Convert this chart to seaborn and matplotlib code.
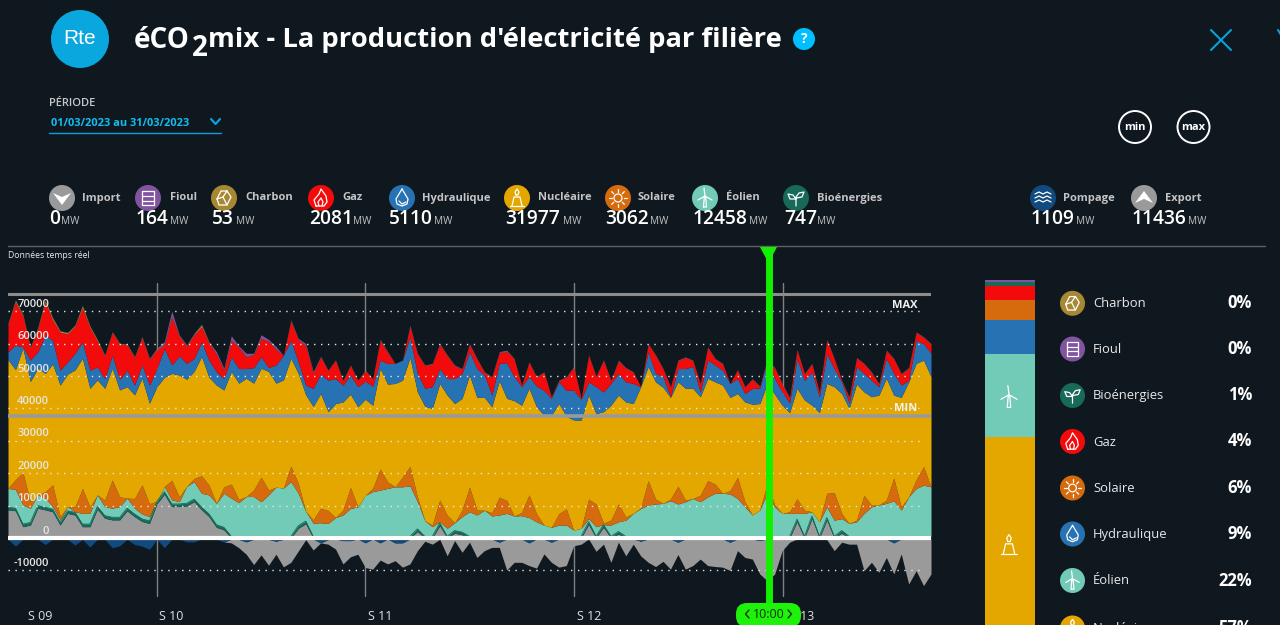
import numpy as np
import pandas as pd
import seaborn as sns
import matplotlib.pyplot as plt
from matplotlib.patches import Circle, Polygon, FancyBboxPatch

# une valeur toutes les 6 h sur le mois de mars, en GW
heures = list(range(0, 745, 6))

haut_total = [
    66.3, 73.5, 69, 59, 65, 73.5, 68, 64, 63.5, 65.8,
    71.8, 65.5, 61.3, 56.5, 63.7, 60.1, 59.9, 56, 62.2, 55.5,
    58.6, 60.6, 70, 62.7, 59.6, 63.2, 66, 60.6, 57.5, 52.4,
    62.4, 59.3, 57, 57, 62.7, 61.3, 59.1, 53.9, 67.3, 61.6,
    60, 51.4, 56.1, 51.8, 55, 48.7, 53.4, 48.7, 51.8, 49.2,
    61.3, 57.5, 53.9, 52.9, 65.7, 57, 53.4, 53.9, 60, 56.5,
    53.4, 52.3, 60, 55.4, 51.3, 49.8, 57.5, 58, 55.4, 47.2,
    54.4, 49.8, 51.3, 43.6, 48.7, 49.8, 52.9, 43.1, 56.5, 50,
    55, 48.7, 54.9, 52.6, 51.3, 46.7, 60, 56.5, 52.3, 46.7,
    54.9, 55.9, 54.9, 47.7, 59, 55.4, 53.9, 46.7, 52, 46.7,
    49.2, 46.9, 55.4, 52.6, 47.7, 43.4, 58.2, 50.8, 53.9, 45.1,
    61.3, 55.4, 48.7, 43.6, 55.7, 53.9, 51.3, 47.7, 58, 55.4,
    50.8, 52.6, 63.6, 62.1, 60,
]
haut_hydraulique = [
    57.5, 59.5, 59, 54.9, 57.5, 62.6, 61, 51.8, 54.4, 57,
    60.5, 51.8, 52.8, 49.2, 56.4, 48.9, 51.8, 47.2, 53.4, 47.2,
    52.3, 58.5, 53.4, 56.2, 53.9, 55.4, 60.5, 54.9, 51.3, 49.2,
    55.9, 52.3, 52.3, 52.6, 55.9, 52.6, 53.4, 56.4, 61, 54.4,
    47.2, 46.2, 50.6, 48.7, 49.2, 47.2, 50.3, 46.7, 48.4, 46.9,
    54.9, 53.9, 53.9, 54.9, 62.1, 50.8, 46.2, 46.7, 52.3, 49.2,
    49.2, 50.8, 57.5, 52.3, 50.3, 44.1, 53.9, 54.1, 49.8, 46.7,
    49.8, 46.9, 45.6, 43.1, 48.2, 45.6, 45.6, 42.8, 48.2, 46.7,
    45.1, 47.7, 50.8, 48.2, 47.7, 46.2, 57.5, 50.8, 49.8, 43.6,
    52.3, 52.3, 52.9, 45.1, 54.9, 53.4, 51.8, 47.7, 49.2, 44.6,
    46.2, 46.2, 54.9, 49.2, 45.1, 41.7, 55.4, 48.7, 51.3, 43.6,
    56.8, 52.3, 48.2, 41.7, 52.9, 50.8, 48.7, 46.7, 55.4, 50.8,
    47.2, 48.7, 61, 60, 57,
]
haut_nucleaire = [
    55, 52, 58.6, 48.3, 52.4, 50.8, 53.7, 47.2, 50.6, 51.9,
    55.5, 46.2, 48.8, 46.2, 52.4, 45.7, 46.7, 44.2, 49.3, 41.6,
    46.7, 49.6, 50.8, 50.3, 49, 51.4, 56, 49.6, 47.2, 45.7,
    51.4, 47.8, 49.3, 47.8, 52.4, 51.4, 47.8, 48.8, 55.5, 50.8,
    44.2, 40.6, 44.6, 39, 41.5, 42, 44.4, 40.5, 42.8, 41,
    52.3, 47.5, 47.7, 48.7, 55.7, 45.1, 40.7, 40, 47.7, 44.1,
    41.5, 43.1, 50.3, 43.4, 43.4, 40.5, 48.5, 43.1, 42.4, 41,
    46.2, 40.5, 37.9, 37.9, 41.5, 37.6, 36.4, 36.4, 44.1, 38.4,
    39, 41, 44.1, 42, 41.5, 46.7, 52.9, 48.2, 46.5, 43.4,
    48.2, 46.2, 46.2, 43.6, 49.3, 48.2, 47.2, 43.4, 44.6, 42,
    41.3, 41.5, 47.7, 44.4, 41, 38.7, 46.2, 42.6, 41, 38.7,
    47.7, 46.7, 44.6, 40, 47.5, 45.1, 43.6, 44.1, 49.3, 44.1,
    43.4, 48.2, 53.9, 54.9, 49.8,
]
haut_eolien = [
    15.3, 15, 10.2, 9.2, 13.3, 12.3, 9.7, 5.6, 9.7, 8.1,
    7.6, 7.6, 13.3, 9.7, 9.2, 9.7, 12.3, 9.2, 7.4, 6.6,
    10.2, 15.9, 11.8, 11.2, 15.9, 17.4, 13.8, 13.3, 10.7, 13.8,
    12.3, 10.9, 12.8, 12.8, 11.2, 13.3, 15.7, 15.4, 17.4, 13.8,
    8.2, 4.6, 4.7, 4.5, 6.3, 7.1, 9.1, 9.6, 13.2, 14.3,
    14.8, 15.3, 15.8, 15.8, 16.1, 11.2, 5.3, 3.5, 5, 3,
    4.7, 6.6, 8.1, 7.1, 8.6, 6.8, 7.1, 7.6, 6.8, 6.9,
    6.3, 5, 4, 3.3, 4, 4, 2.4, 3, 6, 3.5,
    3.5, 4, 5, 5.5, 7.6, 9.1, 10.2, 10.5, 10.7, 11.5,
    10.5, 11.2, 12.2, 11.2, 12.7, 13.8, 13.8, 13.6, 12.2, 9.6,
    7.1, 8.6, 13.8, 9.6, 7.6, 7.6, 7.6, 7.6, 8.1, 5,
    9.6, 5.5, 6, 4.5, 5, 7.6, 9.6, 10.2, 10.7, 11.5,
    8.6, 12.7, 15.3, 16.3, 15.8,
]
solaire = [
    0, 3, 10, 2, 0, 2, 6.7, 1, 0, 1.5,
    7.7, 2, 0, 2, 8.7, 3, 0, 3, 9, 4,
    0, 0, 6, 1.5, 0, 1, 5.4, 3, 0, 2,
    4.3, 1, 0, 2, 7.6, 1.5, 0, 0, 4.8, 3,
    0, 1, 4.5, 4, 0, 1.5, 6.5, 0, 0, 1,
    6.5, 2, 0, 3, 6, 1.5, 0, 0.5, 6.7, 4,
    0, 2, 7.6, 1.5, 0, 1, 5.5, 4, 0, 1,
    7, 2.5, 0, 0, 3.5, 5, 0, 0, 6, 7,
    0.5, 1.5, 5.5, 1, 0, 0.2, 7.5, 1.5, 0, 0.5,
    5.5, 0.5, 0, 2, 5, 2.8, 0, 1, 6.5, 1.6,
    0, 0, 3, 0.6, 0, 0.5, 4.5, 1, 0, 0,
    4.2, 8.5, 1.6, 0, 0.5, 5.6, 0.5, 0, 1, 7,
    1, 0, 2.6, 5.7, 0,
]
haut_import = [
    8.7, 8.4, 3.5, 4, 9.2, 8.7, 8.1, 4, 7.6, 7.1,
    3.5, 3.5, 8.9, 6.1, 5.6, 5.6, 8.4, 6.6, 5.1, 4.5,
    10.5, 13.5, 9.7, 9.7, 9.9, 11.2, 8.7, 6.6, 3.3, 2.5,
    0, 0, 0, 0, 0, 0, 0, 0, 0, 3,
    4.4, 0, 0, 0, 0, 0, 0, 0, 0, 0,
    0, 0, 0, 0, 0, 2, 0, 0, 3.8, 0,
    1.5, 1, 0, 0, 0, 0, 0, 0, 0, 0,
    0, 0, 0, 0, 0, 0, 0, 0, 4.2, 0,
    3.3, 0, 1.2, 0, 0, 0, 0, 0, 0, 0,
    0, 0, 0, 0, 0, 0, 0, 0, 0, 0,
    0, 0, 0, 0, 0, 0, 5, 0, 6, 0,
    5.5, 0, 1.5, 0, 0, 0, 0, 0, 0, 0,
    0, 0, 0, 0, 0,
]
bioenergies = [
    0.8, 0.8, 0.8, 0.8, 0.8, 0.8, 0.8, 0.8, 0.8, 0.8,
    0.8, 0.8, 0.8, 0.8, 0.8, 0.8, 0.8, 0.8, 0.8, 0.8,
    0.8, 0.8, 0.8, 0.8, 0.8, 0.8, 0.8, 0.8, 0.8, 0.8,
    0.5, 0.5, 0.5, 0.5, 0.5, 0.5, 0.5, 0.5, 0.5, 0.8,
    0.8, 0.5, 0.5, 0.5, 0.5, 0.5, 0.5, 0.5, 0.5, 0.5,
    0.5, 0.5, 0.5, 0.5, 0.5, 0.8, 0.5, 0.5, 0.8, 0.5,
    0.8, 0.8, 0.5, 0.5, 0.5, 0.5, 0.5, 0.5, 0.5, 0.5,
    0.5, 0.5, 0.5, 0.5, 0.5, 0.5, 0.5, 0.5, 0.8, 0.5,
    0.8, 0.5, 0.8, 0.5, 0.5, 0.5, 0.5, 0.5, 0.5, 0.5,
    0.5, 0.5, 0.5, 0.5, 0.5, 0.5, 0.5, 0.5, 0.5, 0.5,
    0.5, 0.5, 0.5, 0.5, 0.5, 0.5, 0.8, 0.5, 0.8, 0.5,
    0.8, 0.5, 0.8, 0.5, 0.5, 0.5, 0.5, 0.5, 0.5, 0.5,
    0.5, 0.5, 0.5, 0.5, 0.5,
]
fioul = [
    0.1, 0.1, 0.1, 0.1, 0.1, 0.1, 0.1, 0.1, 0.1, 0.1,
    0.1, 0.1, 0.1, 0.1, 0.1, 0.1, 0.1, 0.1, 0.2, 0.2,
    0.3, 0.8, 1.5, 0.3, 0.2, 0.2, 0.2, 0.2, 0.7, 0.5,
    1.2, 0.3, 1, 0.3, 1, 0.5, 0.8, 0.2, 0.2, 0.3,
    0.6, 0.5, 0.2, 0.1, 0.1, 0.1, 0.1, 0.1, 0.1, 0.1,
    0.3, 0.2, 0.1, 0.1, 0.3, 0.1, 0.1, 0.1, 0.2, 0.1,
    0.1, 0.1, 0.2, 0.1, 0.1, 0.1, 0.2, 0.3, 0.1, 0.1,
    0.1, 0.1, 0.1, 0.1, 0.1, 0.1, 0.1, 0.1, 0.1, 0.1,
    0.1, 0.1, 0.2, 0.1, 0.1, 0.1, 0.1, 0.1, 0.1, 0.1,
    0.1, 0.1, 0.1, 0.1, 0.1, 0.1, 0.1, 0.1, 0.1, 0.1,
    0.1, 0.1, 0.1, 0.1, 0.1, 0.1, 0.1, 0.1, 0.1, 0.1,
    0.1, 0.1, 0.1, 0.1, 0.1, 0.1, 0.1, 0.1, 0.1, 0.1,
    0.1, 0.1, 0.1, 0.1, 0.1,
]
charbon = [
    0.3, 0.5, 0.4, 0.3, 0.3, 0.6, 0.6, 0.4, 0.4, 0.3,
    0.7, 0.4, 0.4, 0.2, 0.2, 0.2, 0.2, 0.2, 0.2, 0.2,
    0.2, 0.2, 0.3, 0.2, 0.2, 0.3, 0.6, 0.2, 0.1, 0.1,
    0.2, 0.1, 0.1, 0.1, 0.1, 0.1, 0.1, 0.1, 0.2, 0.1,
    0.1, 0.1, 0.1, 0.1, 0.1, 0.1, 0.1, 0.1, 0.1, 0.1,
    0.1, 0.1, 0.1, 0.1, 0.1, 0.1, 0.1, 0.1, 0.1, 0.1,
    0.1, 0.1, 0.1, 0.1, 0.1, 0.1, 0.1, 0.1, 0.1, 0.1,
    0.1, 0.1, 0.1, 0.1, 0.1, 0.1, 0.1, 0.1, 0.1, 0.1,
    0.1, 0.1, 0.1, 0.1, 0.1, 0.1, 0.1, 0.1, 0.1, 0.1,
    0.1, 0.1, 0.1, 0.1, 0.1, 0.1, 0.1, 0.1, 0.1, 0.1,
    0.1, 0.1, 0.1, 0.1, 0.1, 0.1, 0.1, 0.1, 0.1, 0.1,
    0.1, 0.1, 0.1, 0.1, 0.1, 0.1, 0.1, 0.1, 0.1, 0.1,
    0.1, 0.1, 0.1, 0.1, 0.1,
]
pompage = [
    0.4, 2.5, 0.4, 0.4, 0.4, 2, 0.4, 0.4, 0.4, 2.2,
    0.4, 2.8, 0.4, 0.4, 3, 2.4, 0.4, 2, 2.5, 3.5,
    0.4, 3, 0.4, 0.3, 1.2, 1.2, 0.3, 0.3, 0.4, 1.2,
    0.4, 0.4, 1.2, 0.4, 0.4, 0.4, 1, 0.4, 0.4, 0.4,
    0.3, 0.3, 1.5, 0.5, 0.3, 0.8, 0.8, 0.3, 1.5, 0.3,
    1.5, 0.3, 1.5, 1.5, 0.3, 0.3, 0.3, 0.3, 0.3, 0.3,
    0.3, 0.3, 0.3, 0.3, 0.3, 0.3, 1.3, 0.3, 0.3, 0.3,
    1.5, 0.3, 0.3, 1.3, 0.3, 0.3, 0.3, 0.3, 0.3, 0.3,
    0.3, 0.3, 0.3, 0.3, 0.3, 1, 0.3, 0.3, 0.3, 0.3,
    1.3, 0.3, 0.3, 0.3, 0.3, 0.3, 0.3, 1.3, 0.3, 0.3,
    0.3, 0.8, 0.3, 0.3, 0.3, 0.3, 0.3, 0.3, 0.3, 0.3,
    0.3, 0.3, 0.3, 0.3, 0.3, 0.3, 0.3, 0.3, 0.3, 1.5,
    0.3, 0.3, 0.3, 0.3, 0.3,
]
export_bas = [
    0, 0, 0, 0, 0, 0, 0, 0, 0, 0,
    0, 0, 0, 0, 0, 0, 0, 0, 0, 0,
    0, 0, 0, 0, 0, 0, 0, 0, 0, 0,
    1.5, 3, 5, 8.2, 5.2, 8.4, 5, 8.9, 7.5, 4,
    0.5, 3.7, 1.4, 1.9, 3.4, 8, 5.8, 5, 9.1, 9.6,
    6.8, 8, 7, 9, 8, 3.9, 1, 1.9, 0.4, 5.5,
    0.8, 4.4, 1.3, 6, 3.9, 2.9, 2.9, 9.9, 7.5, 7.5,
    8.5, 9.3, 4.9, 7.5, 9, 8.5, 2.4, 1.9, 0.3, 4.1,
    1.9, 7.5, 1.3, 5.5, 1.9, 5.5, 7.5, 8.8, 7.2, 9.6,
    5.1, 9.6, 8.5, 6.5, 8.5, 8.8, 9, 10, 3.9, 6,
    6.5, 11.1, 13.2, 11.1, 3.9, 1.3, 0.3, 0.3, 0.3, 0.3,
    0.5, 3.9, 1.3, 1.9, 1.9, 10.1, 7.5, 10.6, 6, 11.1,
    4.9, 14.2, 10.1, 14.7, 11.1,
]

graduations = [-10000, 0, 10000, 20000, 30000, 40000, 50000, 60000, 70000]
semaines = ["S 09", "S 10", "S 11", "S 12", "S 13"]
heures_semaines = [120, 288, 456, 625]
seuil_max = 75200
seuil_min = 37700

# bandeau du haut : (nom, valeur)
filieres_haut = [
    ("Import", "0"), ("Fioul", "164"), ("Charbon", "53"), ("Gaz", "2081"),
    ("Hydraulique", "5110"), ("Nucléaire", "31977"), ("Solaire", "3062"),
    ("Éolien", "12458"), ("Bioénergies", "747"), ("Pompage", "1109"), ("Export", "11436"),
]
# barre de droite, de bas en haut
barre_noms = ["Nucléaire", "Éolien", "Hydraulique", "Solaire", "Gaz", "Bioénergies", "Fioul"]
barre_parts = [58.6, 22, 8.8, 5.4, 3.5, 1.2, 0.5]
legende_noms = ["Charbon", "Fioul", "Bioénergies", "Gaz", "Solaire", "Hydraulique", "Éolien", "Nucléaire"]
legende_parts = ["0%", "0%", "1%", "4%", "6%", "9%", "22%", "57%"]

FOND = "#10181f"
COULEURS = {
    "Import": "#9a9a9a", "Export": "#9a9a9a", "Fioul": "#80549f", "Charbon": "#a68832",
    "Gaz": "#f30a0a", "Hydraulique": "#2772b2", "Nucléaire": "#e3a700", "Solaire": "#d66b0d",
    "Éolien": "#72cbb7", "Bioénergies": "#166a57", "Pompage": "#114a7e",
}

sns.set_theme(style="dark", rc={"figure.facecolor": FOND, "axes.facecolor": FOND})
plt.rcParams["font.family"] = ["Open Sans", "DejaVu Sans"]

df = pd.DataFrame({
    "heure": heures, "total": haut_total, "hydro": haut_hydraulique, "nucleaire": haut_nucleaire,
    "eolien": haut_eolien, "solaire": solaire, "import": haut_import, "bio": bioenergies,
    "fioul": fioul, "charbon": charbon, "pompage": pompage, "export": export_bas,
})
df[df.columns[1:]] = df[df.columns[1:]] * 1000

fig = plt.figure(figsize=(12.8, 6.25), dpi=100)
ax = fig.add_axes([8 / 1280, 1 - 600 / 625, 923 / 1280, (600 - 283) / 625])
ax.set_xlim(0, 744)
ax.set_ylim((538 - 600) / 32.4 * 10000, (538 - 283) / 32.4 * 10000)
ax.axis("off")

for h in heures_semaines:
    ax.axvline(h, ymin=4 / 317, color="#7d8084", lw=1, zorder=1)

# empilement, du bas vers le haut
gris = df["import"]
bio = gris + df["bio"]
eol = np.maximum(df["eolien"], bio)
sol = eol + df["solaire"]
nuc = np.maximum(df["nucleaire"], sol)
hyd = np.maximum(df["hydro"], nuc)
tot = np.maximum(df["total"], hyd)
cha = np.maximum(tot - df["fioul"], hyd)
gaz = np.maximum(cha - df["charbon"], hyd)
couches = [
    (0 * gris, gris, "Import"), (gris, bio, "Bioénergies"), (bio, eol, "Éolien"),
    (eol, sol, "Solaire"), (sol, nuc, "Nucléaire"), (nuc, hyd, "Hydraulique"),
    (hyd, gaz, "Gaz"), (gaz, cha, "Charbon"), (cha, tot, "Fioul"),
]
for bas, haut, nom in couches:
    ax.fill_between(df["heure"], bas, haut, color=COULEURS[nom], lw=0, zorder=2)

bas_pompage = -df["pompage"]
bas_export = -np.maximum(df["export"], df["pompage"])
ax.fill_between(df["heure"], bas_pompage, bas_export, color=COULEURS["Export"], lw=0, zorder=2)
ax.fill_between(df["heure"], 0, bas_pompage, color=COULEURS["Pompage"], lw=0, zorder=2)

# contours
sns.lineplot(data=df, x="heure", y=bio, ax=ax, color=COULEURS["Bioénergies"], lw=0.6, zorder=3)

for v in graduations:
    ax.plot([0, 738], [v, v], color="#e8e8e8", lw=1, ls=(0, (1, 4)), zorder=4)
    ax.annotate(str(v), (0, v), xytext=(41, 7), textcoords="offset pixels", ha="right", va="center",
                color="#e6e6e6", fontsize=8, fontweight="semibold", zorder=6)

ax.plot([0, 744], [seuil_max, seuil_max], color="#8c8c8c", lw=2.2, zorder=5)
ax.plot([0, 744], [seuil_min, seuil_min], color="#9a9a9a", lw=2.6, zorder=5)
ax.plot([0, 744], [0, 0], color="white", lw=3, zorder=5)
ax.text(733, seuil_max - 3400, "MAX", ha="right", va="center", color="#f2f2f2",
        fontsize=8, fontweight="bold", zorder=6)
ax.text(733, seuil_min + 2400, "MIN", ha="right", va="center", color="#f2f2f2",
        fontsize=8, fontweight="bold", zorder=6)
ax.set_xlabel("")
ax.set_ylabel("")

# barre de répartition
ax_barre = fig.add_axes([985 / 1280, 0, 50 / 1280, 345 / 625])
ax_barre.axis("off")
ax_barre.set_ylim(100 - 345 / 3.8, 100)
ax_barre.set_xlim(-0.5, 0.5)
cumul = 0
for nom, part in zip(barre_noms, barre_parts):
    ax_barre.bar(0, part, bottom=cumul, width=1, color=COULEURS[nom], lw=0)
    cumul += part

# habillage en coordonnées pixels
ui = fig.add_axes([0, 0, 1, 1], zorder=10)
ui.set_xlim(0, 1280)
ui.set_ylim(625, 0)
ui.axis("off")
ui.patch.set_alpha(0)


def trait(xs, ys, c="white", lw=0.9, zorder=3):
    ui.plot(xs, ys, color=c, lw=lw, solid_capstyle="round", solid_joinstyle="round", zorder=zorder)


def glyphe(nom, cx, cy, k):
    def p(pts):
        trait([cx + a * k for a, _ in pts], [cy + b * k for _, b in pts])
    if nom == "Import" or nom == "Export":
        s = 1 if nom == "Import" else -1
        ui.add_patch(Polygon([(cx - 9 * k, cy - 5 * k * s), (cx, cy - 1 * k * s), (cx + 9 * k, cy - 5 * k * s),
                              (cx, cy + 7 * k * s)], color="white", lw=0))
    elif nom == "Fioul":
        p([(-6, -7), (6, -7), (6, 7), (-6, 7), (-6, -7)])
        p([(-6, -2.5), (6, -2.5)])
        p([(-6, 2.5), (6, 2.5)])
    elif nom == "Charbon":
        p([(-7, 1), (-3, -7), (3, -7), (7, -1), (3, 7), (-5, 7), (-7, 1), (-1, -1), (3, -7)])
        p([(-1, -1), (3, 7)])
    elif nom == "Gaz":
        p([(-5, 8), (-7, 2), (-2, -4), (0, -9), (5, -2), (6, 4), (3, 8), (-5, 8)])
        p([(-2, 8), (-3, 4), (0, 0), (2, 4), (1, 8)])
    elif nom == "Hydraulique":
        p([(0, -9), (-6, 1), (-5, 6), (0, 8), (5, 6), (6, 1), (0, -9)])
        p([(-3, 3), (0, 6), (4, 4)])
    elif nom == "Nucléaire":
        p([(-7, 8), (7, 8)])
        p([(-5, 8), (-3, -1), (3, -1), (5, 8)])
        p([(-1, -3), (-2, -6), (0, -9), (2, -6), (1, -3), (-1, -3)])
    elif nom == "Solaire":
        ui.add_patch(Circle((cx, cy), 4 * k, fill=False, ec="white", lw=0.9))
        for a in np.arange(0, 360, 45):
            c, s = np.cos(np.radians(a)), np.sin(np.radians(a))
            p([(6 * c, 6 * s), (9 * c, 9 * s)])
    elif nom == "Éolien":
        p([(-1.5, 9), (-0.7, -1), (0.7, -1), (1.5, 9), (-1.5, 9)])
        p([(0, -2), (-1, -10)])
        p([(0, -2), (7, 2)])
        p([(0, -2), (-7, 2)])
    elif nom == "Bioénergies":
        p([(0, 8), (0, -1), (3, -5), (8, -6), (6, -1), (0, 0)])
        p([(0, 1), (-3, -3), (-8, -4), (-6, 1), (0, 1)])
    elif nom == "Pompage":
        for b in (-4, 0, 4):
            p([(-8, b), (-4, b - 2), (0, b), (4, b - 2), (8, b)])


def icone(nom, cx, cy, r):
    ui.add_patch(Circle((cx, cy), r, color=COULEURS[nom], lw=0))
    glyphe(nom, cx, cy, r / 13)


# logo et titre
ui.add_patch(Circle((80, 39), 29, color="#0aa7de", lw=0))
ui.text(80, 39, "Rte", color="white", ha="center", va="center", fontsize=15, fontfamily="Liberation Sans")
ui.text(134, 40, "éCO", color="white", fontsize=20, fontweight="bold", va="center")
ui.text(192, 48, "2", color="white", fontsize=20, fontweight="bold", va="center")
ui.text(208, 40, "mix - La production d'électricité par filière", color="white", fontsize=19.7,
        fontweight="bold", va="center")
ui.add_patch(Circle((804, 39), 11, color="#00bfff", lw=0))
ui.text(804, 39, "?", color="white", ha="center", va="center", fontsize=10, fontweight="bold")
trait([1211, 1231], [30, 50], c="#0aa0d8", lw=1.5)
trait([1211, 1231], [50, 30], c="#0aa0d8", lw=1.5)
trait([1278, 1290], [30, 50], c="#0aa0d8", lw=1.5)

# période
ui.text(49, 103, "PÉRIODE", color="#c8c8c8", fontsize=8, fontweight="semibold", va="center")
ui.text(51, 123, "01/03/2023 au 31/03/2023", color="#11bdf0", fontsize=7.9, fontweight="bold", va="center")
trait([49, 221], [132.5, 132.5], c="#0aa0d8", lw=1)
trait([211, 215.5, 220], [119, 124, 119], c="#0aa0d8", lw=1.6)

for cx, txt in [(1135, "min"), (1193.5, "max")]:
    ui.add_patch(Circle((cx, 127), 16, fill=False, ec="white", lw=1.4))
    ui.text(cx, 127, txt, color="white", ha="center", va="center", fontsize=8, fontweight="bold")

# bandeau des filières
x_icone = [62, 148, 224, 321, 402, 517, 618, 705, 796, 1043, 1144]
x_label = [82, 170, 245, 342, 422, 538, 637, 726, 817, 1063, 1165]
x_valeur = [49, 136, 212, 309, 389, 505, 605, 693, 784, 1031, 1132]
x_mw = [61, 170, 236, 353, 434, 563, 650, 749, 817, 1076, 1188]
for (nom, val), xi, xl, xv, xm in zip(filieres_haut, x_icone, x_label, x_valeur, x_mw):
    icone(nom, xi, 198, 13)
    ui.text(xl, 198, nom, color="#c4c4c4", fontsize=8, fontweight="bold", va="center")
    ui.text(xv, 219.5, val, color="white", fontsize=13.8, fontweight="semibold", va="center")
    ui.text(xm, 222, "MW", color="#c4c4c4", fontsize=7.2, va="center")

trait([8, 1265], [246, 246], c="#5e6266", lw=1)
ui.text(8, 255, "Données temps réel", color="#e8e8e8", fontsize=6.2, va="center")

# étiquettes de semaines
for txt, xs in zip(semaines, [28, 159, 368, 577, 790]):
    ui.text(xs, 617, txt, color="#e0e0e0", fontsize=9, va="center")

# curseur vert, par-dessus l'étiquette S 13
ui.plot([768.5, 768.5], [252, 605], color="#12f000", lw=5, solid_capstyle="butt", zorder=5)
ui.add_patch(Polygon([(760, 247), (777, 247), (768.5, 263)], color="#12f000", lw=0, zorder=5))
ui.add_patch(FancyBboxPatch((736, 603), 65, 24, boxstyle="round,pad=0,rounding_size=11", lw=0,
                            fc="#1ef20a", zorder=6))
ui.text(768.5, 614, "10:00", color="#10300a", ha="center", va="center", fontsize=9, zorder=7)
trait([749, 745.5, 749], [610, 614, 618], c="#10300a", lw=1, zorder=7)
trait([788, 791.5, 788], [610, 614, 618], c="#10300a", lw=1, zorder=7)

# légende droite
y_legende = [303.3, 349, 395.5, 441.5, 488, 534, 580.5, 628]
for nom, part, y in zip(legende_noms, legende_parts, y_legende):
    icone(nom, 1072.5, y, 12.5)
    ui.text(1093, y + 0.5, nom, color="#e8e8e8", fontsize=9.4, va="center")
    ui.text(1252, y, part, color="white", fontsize=12, fontweight="bold", ha="right", va="center")

glyphe("Éolien", 1009, 397, 1.15)
glyphe("Nucléaire", 1009, 545, 1.15)

fig.savefig("out.png", dpi=100, facecolor=FOND)
